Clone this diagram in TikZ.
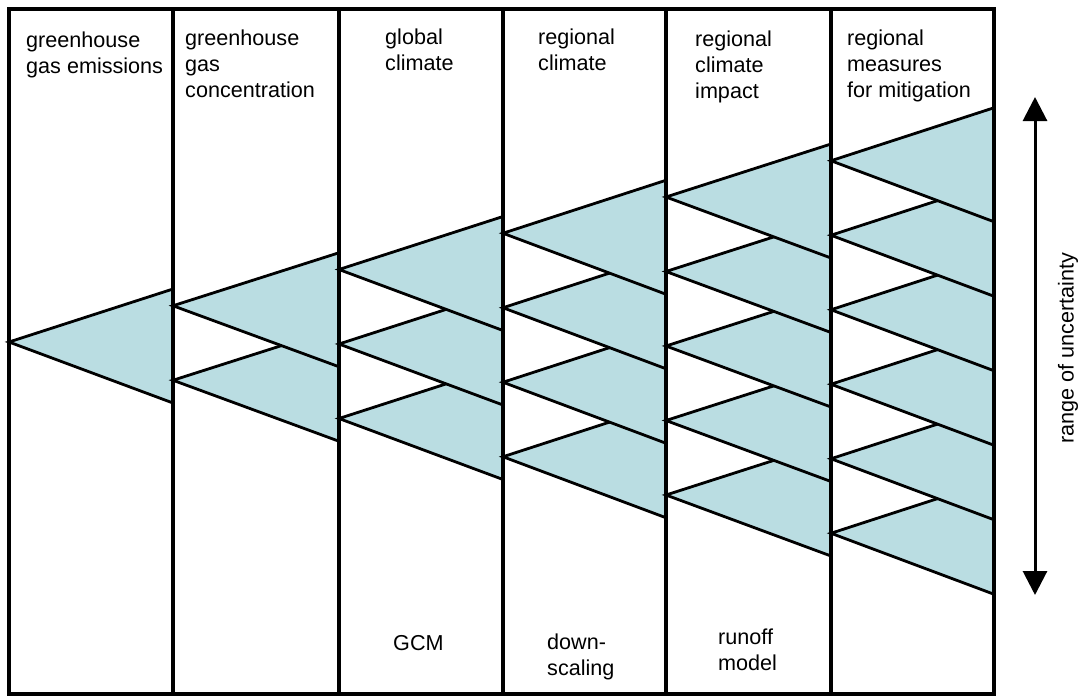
\documentclass[tikz,border=0pt]{standalone}
\usepackage{fontspec}
\setmainfont{Liberation Sans}
\usetikzlibrary{arrows.meta}
\definecolor{coneblue}{RGB}{186,221,226}

\begin{document}
\begin{tikzpicture}[x=1pt, y=-1pt, >={Triangle[width=24pt,length=24pt]},
	frame/.style={line width=3.2pt},
	cone/.style={fill=coneblue, draw=black, line width=2.8pt, line join=miter},
	stage/.style={align=left, anchor=base west, inner sep=0pt, font=\fontsize{21.6}{26}\selectfont},
	tool/.style={stage}]
		
		\useasboundingbox (0,0) rectangle (1084,697);
		
		% cones, lower ones first so the upper ones lie on top
		\foreach \n/\l/\r in {1/9/173, 2/173/339, 3/339/503, 4/503/666, 5/666/831, 6/831/994}
		\foreach \k in {\n,...,1}
		{
		\pgfmathsetmacro\ay{341+\n+(\k-(\n+1)/2)*74.5}
		\filldraw [cone] (\l,\ay) -- (\r,\ay-53) -- (\r,\ay+61) -- cycle;
		}
		
		\draw [frame] (9,9) rectangle (994,694);
		\foreach \x in {173,339,503,666,831}
		\draw [frame] (\x,9) -- (\x,694);
		
		% anchors sit on the baseline of the last line
		\node [stage] (stage-1) at (26,73) {greenhouse\\gas emissions};
		\node [stage] (stage-2) at (185,97) {greenhouse\\gas\\concentration};
		\node [stage] (stage-3) at (385,70) {global\\climate};
		\node [stage] (stage-4) at (538,70) {regional\\climate};
		\node [stage] (stage-5) at (695,98) {regional\\climate\\impact};
		\node [stage] (stage-6) at (847,97) {regional\\measures\\for mitigation};
		
		\node [tool] (tool-3) at (393,650) {GCM};
		\node [tool] (tool-4) at (547,675) {down-\\scaling};
		\node [tool] (tool-5) at (718,670) {runoff\\model};
		
		\coordinate (range-top) at (1035,97);
		\coordinate (range-bottom) at (1035,595);
		\draw [<->, line width=3pt] (range-top) -- (range-bottom);
		\node [rotate=90, font=\fontsize{21.6}{26}\selectfont] (range) at (1068,348) {range of uncertainty};

		\end{tikzpicture}
\end{document}
